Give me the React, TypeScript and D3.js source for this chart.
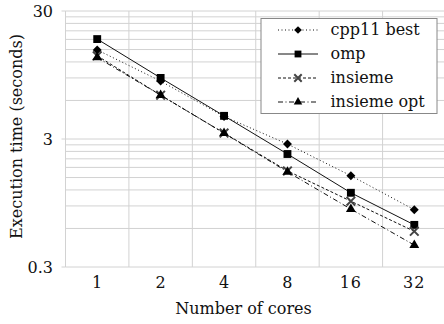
import React from 'react'
import * as d3 from 'd3'

// execution time (seconds) per core count
const cores = ['1', '2', '4', '8', '16', '32']
const cpp11Best = [14.9, 8.5, 4.5, 2.74, 1.55, 0.84]
const omp = [18.1, 9.0, 4.55, 2.29, 1.14, 0.64]
const insieme = [13.4, 6.6, 3.34, 1.69, 0.98, 0.57]
const insiemeOpt = [13.0, 6.6, 3.33, 1.66, 0.85, 0.445]
const yTickLabels = [0.3, 3, 30]

const series = [
  { name: 'cpp11 best', values: cpp11Best, dash: '1,2.5', symbol: d3.symbolSquare, rot: 45, size: 40, fill: '#000' },
  { name: 'omp', values: omp, dash: null, symbol: d3.symbolSquare, rot: 0, size: 62, fill: '#000' },
  { name: 'insieme', values: insieme, dash: '3,2', symbol: d3.symbolX, rot: 0, size: 50, fill: '#444' },
  { name: 'insieme opt', values: insiemeOpt, dash: '5,2.5,1,2.5', symbol: d3.symbolTriangle, rot: 0, size: 42, fill: '#000' },
]

const W = 444
const H = 324
const left = 65.5
const right = 446
const top = 11
const bottom = 267
const font = '"DejaVu Serif", serif'
const gridColor = '#d2d2d2'

export default function App() {
  const x = d3.scaleBand().domain(cores).range([left, right]).padding(0)
  const cx = (c: string) => (x(c) as number) + x.bandwidth() / 2
  const y = d3.scaleLog().domain([0.3, 30]).range([bottom, top])

  // minor grid at multiples of 0.3 and 3
  const grid: number[] = []
  ;[0.3, 3].forEach((b) => d3.range(1, 10).forEach((m) => grid.push(+(b * m).toFixed(2))))
  grid.push(30)

  const vlines = cores.map((c) => x(c) as number).concat([right])

  const line = d3.line<number>()
    .x((d, i) => cx(cores[i]))
    .y((d) => y(d))

  const legendX = 261
  const legendY = 18.5
  const rowH = 24

  const marker = (s: typeof series[number], px: number, py: number, scale: number, key: any) => (
    <path
      key={key}
      transform={`translate(${px},${py}) rotate(${s.rot})`}
      d={d3.symbol().type(s.symbol).size(s.size * scale)() || ''}
      fill={s.symbol === d3.symbolX ? 'none' : s.fill}
      stroke={s.symbol === d3.symbolX ? s.fill : 'none'}
      strokeWidth={2}
    />
  )

  return (
    <svg width={W} height={H} style={{ position: 'absolute', left: 0, top: 0, background: '#fff' }}>
      <g stroke={gridColor} strokeWidth={1}>
        {grid.map((g) => (
          <line key={'h' + g} x1={left} x2={right} y1={y(g)} y2={y(g)} />
        ))}
        {vlines.map((v, i) => (
          <line key={'v' + i} x1={v} x2={v} y1={top} y2={bottom} />
        ))}
        {yTickLabels.map((t) => (
          <line key={'t' + t} x1={61.5} x2={left} y1={y(t)} y2={y(t)} />
        ))}
      </g>

      <g fontFamily={font} fontSize={16} fill="#111">
        {yTickLabels.map((t) => (
          <text key={t} x={53} y={y(t)} dy="0.36em" textAnchor="end">{t}</text>
        ))}
        {cores.map((c) => (
          <text key={c} x={cx(c)} y={288} textAnchor="middle" letterSpacing={c.length > 1 ? 1 : 0}>{c}</text>
        ))}
        <text x={243.5} y={314} textAnchor="middle">Number of cores</text>
        <text transform={`translate(22,136.5) rotate(-90)`} textAnchor="middle">Execution time (seconds)</text>
      </g>

      {series.map((s) => (
        <g key={s.name}>
          <path d={line(s.values) || ''} fill="none" stroke="#111" strokeWidth={1} strokeDasharray={s.dash || undefined} />
          {s.values.map((v, i) => marker(s, cx(cores[i]), y(v), 1, i))}
        </g>
      ))}

      <g>
        <rect x={legendX} y={legendY} width={176} height={95} fill="#fff" stroke="#888" strokeWidth={1} />
        {series.map((s, i) => {
          const ry = legendY + 11.5 + i * rowH
          return (
            <g key={s.name}>
              <line x1={278} x2={318} y1={ry} y2={ry} stroke="#111" strokeWidth={1} strokeDasharray={s.dash || undefined} />
              {marker(s, 298, ry, 0.75, 'm')}
              <text x={330.5} y={ry} dy="0.32em" fontFamily={font} fontSize={16} fill="#111">{s.name}</text>
            </g>
          )
        })}
      </g>
    </svg>
  )
}
